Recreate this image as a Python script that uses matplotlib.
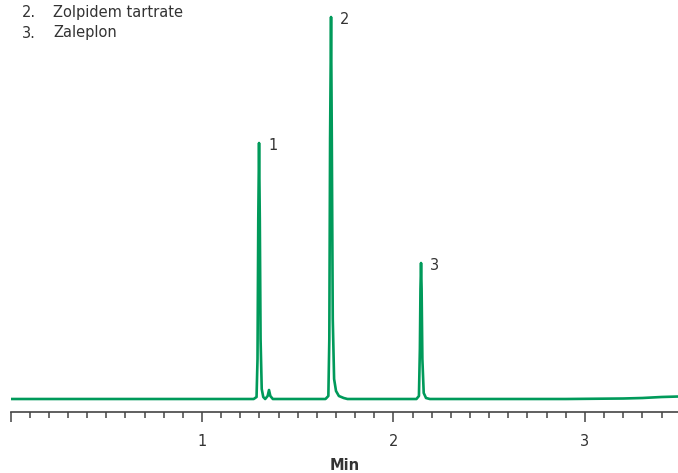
import matplotlib
matplotlib.use('Agg')
import matplotlib.pyplot as plt
from matplotlib.ticker import MultipleLocator, FixedLocator, FixedFormatter

plt.rcParams['font.family'] = 'DejaVu Sans'

# Chromatogram trace (time in min, signal in arbitrary units)
times = [
    0.0, 0.5, 1.0, 1.27, 1.285, 1.29, 1.294, 1.298, 1.302, 1.306, 1.312, 1.32,
    1.33, 1.343, 1.35, 1.357, 1.37, 1.5, 1.645, 1.66, 1.665, 1.669, 1.674,
    1.678, 1.683, 1.69, 1.70, 1.715, 1.74, 1.76, 2.0, 2.12, 2.133, 2.138,
    2.141, 2.144, 2.147, 2.151, 2.158, 2.17, 2.19, 2.5, 2.9, 3.2, 3.3, 3.4, 3.49,
]
signal = [
    0, 0, 0, 0, 2, 40, 180, 256, 180, 60, 10, 2,
    0, 3, 9, 3, 0, 0, 0, 3, 60, 260, 382,
    260, 80, 20, 8, 3, 1, 0, 0, 0, 3, 50,
    110, 136, 110, 40, 6, 1, 0, 0, 0, 0.5, 1, 2, 2.5,
]

peak_times = [1.298, 1.674, 2.144]
peak_heights = [256, 382, 136]
peak_labels = ['1', '2', '3']

compounds = [('2.', 'Zolpidem tartrate'), ('3.', 'Zaleplon')]

major_ticks = [0, 1, 2, 3]
major_labels = ['', '1', '2', '3']

green = '#009a5a'
dark = '#333333'
fs = 10.5

fig = plt.figure(figsize=(6.78, 4.73), dpi=100)
ax = fig.add_axes([10.5 / 678, (473 - 412) / 473, 1 - 10.5 / 678, 412 / 473])

ax.plot(times, signal, color=green, lw=1.9, solid_joinstyle='round')

for t, h, lab in zip(peak_times, peak_heights, peak_labels):
    ax.annotate(lab, xy=(t, h), xytext=(6.5, -2), textcoords='offset points',
                fontsize=fs, color=dark, ha='left', va='center')

for i, (num, name) in enumerate(compounds):
    y = 1 - (17 + 20.5 * i) / 473
    fig.text(22 / 678, y, num, fontsize=fs, color=dark, ha='left', va='baseline')
    fig.text(53 / 678, y, name, fontsize=fs, color=dark, ha='left', va='baseline')

ax.set_xlim(0, 3.486)
ax.set_ylim(-13, 399)

for s in ['top', 'left', 'right']:
    ax.spines[s].set_visible(False)
ax.spines['bottom'].set_color('#444444')
ax.spines['bottom'].set_linewidth(1.2)
ax.set_yticks([])

ax.xaxis.set_major_locator(FixedLocator(major_ticks))
ax.xaxis.set_major_formatter(FixedFormatter(major_labels))
ax.xaxis.set_minor_locator(MultipleLocator(0.1))
ax.tick_params(axis='x', which='major', length=7, width=1.1, color='#444444',
               labelsize=fs, labelcolor=dark, pad=9)
ax.tick_params(axis='x', which='minor', length=4, width=1.1, color='#444444')

ax.set_xlabel('Min', fontsize=fs, fontweight='bold', color=dark, labelpad=6)

fig.savefig('out.png', dpi=100)
